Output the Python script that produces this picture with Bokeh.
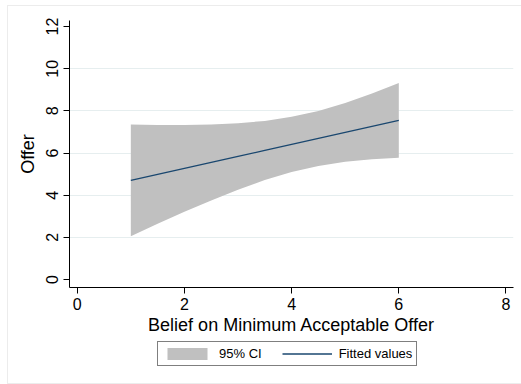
from bokeh.plotting import figure
from bokeh.layouts import column
from bokeh.models import Range1d, FixedTicker, Legend, LegendItem, ColumnDataSource
from bokeh.embed import file_html
from bokeh.resources import INLINE

# Linear fit of offer on belief with its 95% confidence band
belief = [1.0, 1.5, 2.0, 2.5, 3.0, 3.5, 4.0, 4.5, 5.0, 5.5, 6.0]
fitted = [4.70, 4.985, 5.27, 5.555, 5.84, 6.125, 6.41, 6.695, 6.98, 7.265, 7.55]
ci_lower = [2.05, 2.64, 3.21, 3.75, 4.26, 4.72, 5.10, 5.39, 5.59, 5.71, 5.78]
ci_upper = [7.35, 7.33, 7.33, 7.36, 7.42, 7.52, 7.72, 8.00, 8.37, 8.82, 9.32]

x_ticks = [0, 2, 4, 6, 8]
y_ticks = [0, 2, 4, 6, 8, 10, 12]
y_grid = [2, 4, 6, 8, 10]

src = ColumnDataSource(dict(x=belief, fit=fitted, lo=ci_lower, hi=ci_upper))

FONT = "Liberation Sans"
BAND_COLOR = "#c0c0c0"
LINE_COLOR = "#1a476f"

p = figure(
    width=513, height=331,
    x_range=Range1d(-0.144, 8.14), y_range=Range1d(-0.38, 12.29),
    output_backend="svg", toolbar_location=None,
    min_border_left=61, min_border_right=8, min_border_top=14, min_border_bottom=50,
)
p.outline_line_color = None
p.background_fill_color = "white"
p.border_fill_color = "white"

p.varea(x="x", y1="lo", y2="hi", source=src, fill_color=BAND_COLOR, fill_alpha=1.0)
p.line(x="x", y="fit", source=src, line_color=LINE_COLOR, line_width=1.3)

# axes
for ax in (p.xaxis[0], p.yaxis[0]):
    ax.axis_line_color = "black"
    ax.axis_line_width = 1
    ax.major_tick_line_color = "black"
    ax.major_tick_in = 0
    ax.major_tick_out = 6
    ax.minor_tick_line_color = None
    ax.major_label_text_font = FONT
    ax.major_label_text_font_size = "16px"
    ax.major_label_text_color = "black"
    ax.axis_label_text_font = FONT
    ax.axis_label_text_font_size = "18px"
    ax.axis_label_text_font_style = "normal"
    ax.axis_label_text_color = "black"

p.xaxis.ticker = FixedTicker(ticks=x_ticks)
p.yaxis.ticker = FixedTicker(ticks=y_ticks)
p.xaxis.axis_label = "Belief on Minimum Acceptable Offer"
p.yaxis.axis_label = "Offer"
p.yaxis.major_label_orientation = "vertical"
p.xaxis.major_label_standoff = 4
p.yaxis.major_label_standoff = 5
p.xaxis.axis_label_standoff = 2
p.yaxis.axis_label_standoff = 6

p.xgrid.visible = False
p.ygrid.ticker = FixedTicker(ticks=y_grid)
p.ygrid.grid_line_color = "#e6eeef"
p.ygrid.grid_line_width = 1

# legend strip underneath the chart (same side borders so the frames line up)
leg = figure(
    width=513, height=46, x_range=Range1d(0, 1), y_range=Range1d(0, 1),
    x_axis_type=None, y_axis_type=None,
    output_backend="svg", toolbar_location=None,
    min_border_left=61, min_border_right=8, min_border_top=0, min_border_bottom=0,
)
leg.outline_line_color = None
leg.grid.visible = False
leg.border_fill_color = "white"
# key glyphs: their data lies outside this strip's ranges, only the legend shows them
key_band = leg.varea(x=[5, 6], y1=[5, 5], y2=[6, 6], fill_color=BAND_COLOR, fill_alpha=1.0)
key_line = leg.line(x=[5, 6], y=[5, 6], line_color=LINE_COLOR, line_width=1.3)

legend = Legend(
    items=[LegendItem(label="95% CI", renderers=[key_band]),
           LegendItem(label="Fitted values", renderers=[key_line])],
    orientation="horizontal", location=(88, 17),
    border_line_color="black", border_line_width=1,
    label_text_font=FONT, label_text_font_size="13px", label_text_color="black",
    glyph_width=50, glyph_height=15, label_height=15, label_standoff=7,
    spacing=20, padding=4, margin=0,
)
leg.add_layout(legend)

layout = column(p, leg, spacing=0)
layout.margin = (5, 0, 0, 7)
layout.styles = {"border": "1px solid #ececec"}

open("out.html", "w").write(file_html(layout, INLINE))
